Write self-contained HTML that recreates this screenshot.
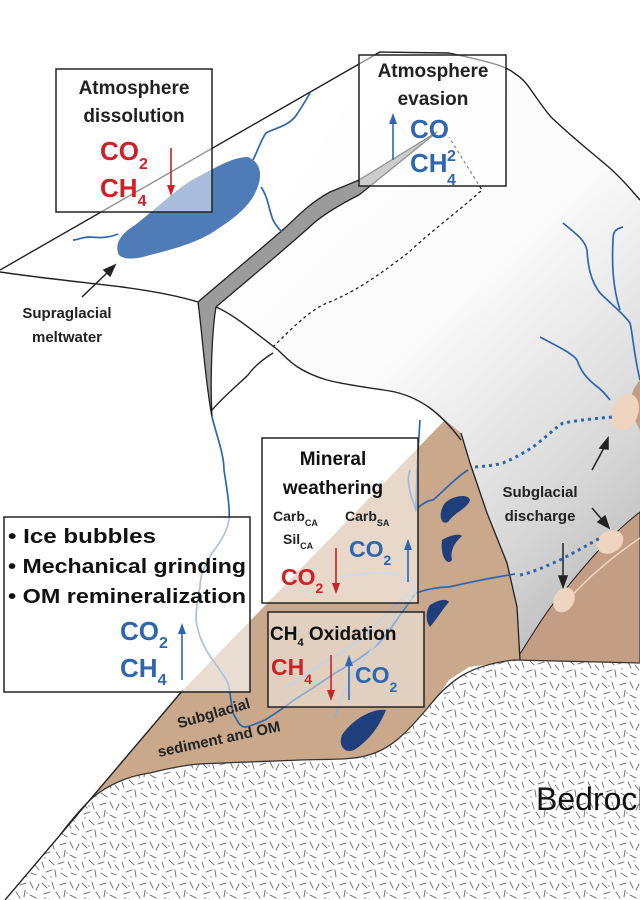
<!DOCTYPE html>
<html><head><meta charset="utf-8"><style>
html,body{margin:0;padding:0;background:#fff}
svg{display:block}
text{font-family:"Liberation Sans",sans-serif;font-weight:bold}
text.reg{font-weight:normal}
</style></head><body>
<svg width="640" height="900" viewBox="0 0 640 900" xmlns="http://www.w3.org/2000/svg">
<defs>
<linearGradient id="ice" x1="0.2" y1="0" x2="0.85" y2="1">
<stop offset="0" stop-color="#fff"/><stop offset="0.45" stop-color="#fbfbfb"/><stop offset="0.8" stop-color="#d6d6d6"/><stop offset="1" stop-color="#b8b8b8"/>
</linearGradient>
<pattern id="rock" width="40" height="40" patternUnits="userSpaceOnUse">
<g stroke="#7a7a7a" stroke-width="1" stroke-linecap="round">
<line x1="2" y1="3" x2="7" y2="8"/><line x1="12" y1="2" x2="14" y2="9"/><line x1="20" y1="5" x2="26" y2="3"/><line x1="30" y1="2" x2="33" y2="8"/>
<line x1="36" y1="10" x2="39" y2="4"/><line x1="4" y1="14" x2="10" y2="12"/><line x1="16" y1="12" x2="20" y2="18"/><line x1="25" y1="10" x2="24" y2="17"/>
<line x1="30" y1="15" x2="36" y2="18"/><line x1="2" y1="22" x2="4" y2="28"/><line x1="9" y1="20" x2="14" y2="25"/><line x1="18" y1="24" x2="24" y2="22"/>
<line x1="28" y1="22" x2="31" y2="28"/><line x1="35" y1="25" x2="39" y2="30"/><line x1="6" y1="32" x2="12" y2="30"/><line x1="15" y1="30" x2="16" y2="37"/>
<line x1="21" y1="33" x2="27" y2="37"/><line x1="31" y1="33" x2="36" y2="35"/><line x1="2" y1="36" x2="6" y2="39"/>
</g>
<g fill="#7a7a7a"><circle cx="9" cy="6" r="0.7"/><circle cx="27" cy="13" r="0.7"/><circle cx="5" cy="18" r="0.7"/><circle cx="34" cy="21" r="0.7"/><circle cx="22" cy="29" r="0.7"/><circle cx="11" cy="37" r="0.7"/></g>
</pattern>
</defs>

<path d="M380,52 L449,53 L514,73 L531,90 L551,117 L612,170 L640,200 L640,663 L520,660 L517,607 L507,563 L487,513 L470,463 L461,440 L429,407 L388,390 L327,380 L294,367 L278,350 L245,323 L216,307 Z" fill="url(#ice)"/>
<path d="M515,662 C535,630 550,605 565,590 C585,565 610,535 640,512 L640,665 Z" fill="#c39d84" stroke="#222" stroke-width="1"/>
<path d="M640,380 C630,392 626,405 640,430 Z" fill="#c39d84"/>
<path d="M568,600 C590,575 615,555 640,538" stroke="#efd9c6" stroke-width="1.5" fill="none"/>
<ellipse cx="625" cy="412" rx="13" ry="19" fill="#efd5bf" transform="rotate(20 625 412)"/>
<ellipse cx="610" cy="542" rx="14" ry="11" fill="#efd5bf" transform="rotate(-30 610 542)"/>
<ellipse cx="564" cy="600" rx="10" ry="13" fill="#efd5bf" transform="rotate(30 564 600)"/>

<path d="M5,900 L183,690 L445,420 L461,433 L470,463 L487,513 L507,563 L517,607 L520,660 L469,667 L449,680 L408,740 L359,760 L300,760 L200,764 L150,773 L100,792 L60,835 Z" fill="#c9a88b"/>
<path d="M461,433 L470,463 L487,513 L507,563 L517,607 L520,660" fill="none" stroke="#222" stroke-width="1.3"/>
<path d="M60,835 C75,815 88,800 100,792 C115,782 130,776 150,773 C170,768 185,765 200,764 C240,762 280,761 300,760 C330,759 350,760 365,756 C390,750 405,735 430,705 C450,680 470,665 514,660 L640,663 L640,900 L5,900 Z" fill="#fff"/>
<path d="M60,835 C75,815 88,800 100,792 C115,782 130,776 150,773 C170,768 185,765 200,764 C240,762 280,761 300,760 C330,759 350,760 365,756 C390,750 405,735 430,705 C450,680 470,665 514,660 L640,663 L640,900 L5,900 Z" fill="url(#rock)"/>
<path d="M60,835 C75,815 88,800 100,792 C115,782 130,776 150,773 C170,768 185,765 200,764 C240,762 280,761 300,760 C330,759 350,760 365,756 C390,750 405,735 430,705 C450,680 470,665 514,660 L640,663" fill="none" stroke="#333" stroke-width="1.3"/>
<path d="M5,900 L183,690" fill="none" stroke="#222" stroke-width="1.4"/>

<g fill="#1f3f7c">
<path d="M445,503 C452,496 468,493 470,500 C468,508 455,512 448,522 C440,526 438,512 445,503 Z"/>
<path d="M442,540 C450,535 460,533 462,536 C455,542 450,550 452,560 C448,566 440,558 442,540 Z"/>
<path d="M430,605 C438,600 446,598 449,602 C442,610 436,620 430,627 C426,622 425,612 430,605 Z"/>
<path d="M342,735 C352,720 372,708 386,710 C380,725 370,740 354,750 C344,754 338,745 342,735 Z"/>
</g>

<path d="M118,253 C115,242 122,233 135,225 C155,210 175,190 192,180 C215,168 232,157 248,157 C262,163 264,178 253,197 C245,210 232,220 210,234 C190,245 170,250 150,255 C135,260 120,260 118,253 Z" fill="#4f7bb6"/>

<g fill="none" stroke="#222" stroke-width="1.4">
<path d="M0,270 L380,52 L449,53 C480,60 505,65 514,73 C525,80 528,86 531,90 C540,103 545,110 551,117 C575,140 595,155 612,170 C625,182 633,192 640,200"/>
<path d="M0,272 C40,278 90,283 122,287 C160,292 185,298 198,302"/>
<path d="M216,307 C235,315 262,338 278,350 C290,362 300,372 327,380 C350,386 375,388 395,392 C420,398 440,412 461,440"/>
<path d="M212,410 C225,395 240,383 248,375 C255,365 265,358 273,353"/>
</g>
<path d="M273,347 C290,330 310,310 327,303 C360,290 385,270 408,253 C430,232 460,210 482,190 L449,137" fill="none" stroke="#222" stroke-width="1.3" stroke-dasharray="3,3"/>

<path d="M198,302 C215,287 260,250 286,227 C300,214 310,203 330,192 C345,186 352,183 359,180 L437,132 L359,195 C345,202 330,210 315,222 C290,245 250,278 216,307 C212,330 210,380 212,417 C205,380 203,340 198,302 Z" fill="#9b9b9b" stroke="#222" stroke-width="1.3" stroke-linejoin="round"/>

<g fill="none" stroke="#2e66b0" stroke-width="1.7">
<path d="M253,160 C258,150 261,140 266,133 C275,128 286,127 295,117 C302,107 306,100 310,93"/>
<path d="M261,187 C268,197 269,210 273,220 C276,226 280,230 282,232"/>
<path d="M118,234 C108,238 100,238 90,237 C82,237 77,240 73,240"/>
<path d="M563,223 C575,233 585,240 587,250 C588,265 590,280 600,293 C610,303 625,315 630,323 C633,335 633,350 640,380"/>
<path d="M623,227 C615,229 613,232 613,240 C612,260 612,285 620,310"/>
<path d="M540,337 C555,345 572,353 577,360 C580,368 583,375 595,385 C602,390 607,396 610,400"/>
<path d="M212,417 C218,440 224,455 224,470 C228,495 230,510 229,520 C226,535 218,545 212,553 C205,565 200,575 200,587 C197,600 196,610 196,620 C198,635 203,645 208,653 C218,668 228,680 229,687 C231,700 232,708 233,713 C238,722 240,727 245,727 C252,726 260,722 265,720 C278,712 286,706 294,700 C310,690 325,680 335,673 C350,665 360,658 367,653 C378,645 386,636 392,627 C400,615 410,600 416,593 C430,588 440,587 449,587 C470,582 490,578 515,574"/>
<path d="M420,420 C418,450 416,480 416,510 C420,505 428,500 433,500 C445,490 455,478 468,470"/>
<path d="M416,510 C410,495 406,480 410,470"/>
</g>
<path d="M475,467 C490,466 500,464 503,463 C515,458 525,452 533,447 C545,438 555,428 563,423 C580,420 600,418 613,417" fill="none" stroke="#2e66b0" stroke-width="3" stroke-dasharray="3,4"/>
<path d="M520,575 C535,572 548,565 560,560 C575,552 588,545 600,538" fill="none" stroke="#2e66b0" stroke-width="3" stroke-dasharray="3,4"/>
<g fill="none" stroke="#8fb0d8" stroke-width="1.5">
<path d="M339,577 C360,574 380,572 392,573 C402,576 408,580 412,583 C415,588 416,592 415,596"/>
<path d="M412,590 C395,605 380,620 367,633 C350,648 338,655 327,660 C310,672 298,680 286,687"/>
<path d="M335,717 C340,700 348,680 360,665 C375,645 395,620 412,597"/>
</g>

<g stroke="#222" stroke-width="1.5" fill="#222">
<line x1="592" y1="470" x2="605" y2="446"/><path d="M608,438 L600,448 L608,449 Z"/>
<line x1="592" y1="508" x2="604" y2="522"/><path d="M609,528 L598,522 L605,516 Z"/>
<line x1="563" y1="543" x2="563" y2="578"/><path d="M563,587 L559,576 L567,576 Z"/>
<line x1="82" y1="297" x2="109" y2="271"/><path d="M115,265 L104,270 L110,276 Z"/>
</g>
<text x="540" y="497" font-size="15" fill="#222" text-anchor="middle">Subglacial</text>
<text x="540" y="521" font-size="15" fill="#222" text-anchor="middle">discharge</text>
<text x="67" y="318" font-size="15" fill="#222" text-anchor="middle">Supraglacial</text>
<text x="67" y="342" font-size="15" fill="#222" text-anchor="middle">meltwater</text>

<g stroke="#222" stroke-width="1.5">
<rect x="56" y="69" width="156" height="143" fill="#fff" fill-opacity="0.5"/>
<rect x="359" y="55" width="147" height="131" fill="#fff" fill-opacity="0.5"/>
<rect x="4" y="517" width="246" height="175" fill="#fff" fill-opacity="0.6"/>
<rect x="262" y="438" width="156" height="165" fill="#fff" fill-opacity="0.55"/>
<rect x="268" y="612" width="156" height="95" fill="#fff" fill-opacity="0.45"/>
</g>

<text x="134" y="94" font-size="19" fill="#222" text-anchor="middle">Atmosphere</text>
<text x="134" y="122" font-size="19" fill="#222" text-anchor="middle">dissolution</text>
<text x="100" y="160" font-size="26" fill="#cf2027">CO<tspan font-size="16" dy="9">2</tspan></text>
<text x="100" y="197" font-size="26" fill="#cf2027">CH<tspan font-size="16" dy="9">4</tspan></text>
<line x1="171" y1="148" x2="171" y2="188" stroke="#cf2027" stroke-width="1.6"/><path d="M171,196 L167,185 L175,185 Z" fill="#cf2027"/>

<text x="433" y="77" font-size="19" fill="#222" text-anchor="middle">Atmosphere</text>
<text x="433" y="105" font-size="19" fill="#222" text-anchor="middle">evasion</text>
<text x="410" y="138" font-size="26" fill="#2e66b0">CO</text>
<text x="447" y="161" font-size="16" fill="#2e66b0">2</text>
<text x="410" y="172" font-size="26" fill="#2e66b0">CH</text>
<text x="447" y="185" font-size="16" fill="#2e66b0">4</text>
<line x1="393" y1="160" x2="393" y2="122" stroke="#2e66b0" stroke-width="1.6"/><path d="M393,113 L389,124 L397,124 Z" fill="#2e66b0"/>

<text x="8" y="543" font-size="20" fill="#111" textLength="148" lengthAdjust="spacingAndGlyphs">• Ice bubbles</text>
<text x="8" y="573" font-size="20" fill="#111" textLength="238" lengthAdjust="spacingAndGlyphs">• Mechanical grinding</text>
<text x="8" y="603" font-size="20" fill="#111" textLength="238" lengthAdjust="spacingAndGlyphs">• OM remineralization</text>
<text x="120" y="640" font-size="26" fill="#2e66b0">CO<tspan font-size="16" dy="8">2</tspan></text>
<text x="120" y="677" font-size="26" fill="#2e66b0">CH<tspan font-size="16" dy="8">4</tspan></text>
<line x1="182" y1="680" x2="182" y2="632" stroke="#2e66b0" stroke-width="1.6"/><path d="M182,623 L178,634 L186,634 Z" fill="#2e66b0"/>

<text x="333" y="465" font-size="19" fill="#111" text-anchor="middle">Mineral</text>
<text x="333" y="494" font-size="19" fill="#111" text-anchor="middle">weathering</text>
<text x="273" y="521" font-size="14" fill="#222">Carb<tspan font-size="9" dy="5">CA</tspan></text>
<text x="283" y="544" font-size="14" fill="#222">Sil<tspan font-size="9" dy="5">CA</tspan></text>
<text x="345" y="521" font-size="14" fill="#222">Carb<tspan font-size="9" dy="5">SA</tspan></text>
<text x="349" y="557" font-size="23" fill="#2e66b0">CO<tspan font-size="14" dy="8">2</tspan></text>
<text x="281" y="585" font-size="23" fill="#cf2027">CO<tspan font-size="14" dy="8">2</tspan></text>
<line x1="336" y1="548" x2="336" y2="586" stroke="#cf2027" stroke-width="1.6"/><path d="M336,594 L332,583 L340,583 Z" fill="#cf2027"/>
<line x1="408" y1="582" x2="408" y2="548" stroke="#2e66b0" stroke-width="1.6"/><path d="M408,539 L404,550 L412,550 Z" fill="#2e66b0"/>

<text x="270" y="640" font-size="19" fill="#111">CH<tspan font-size="11" dy="6">4</tspan><tspan dy="-6"> Oxidation</tspan></text>
<text x="271" y="675" font-size="23" fill="#cf2027">CH<tspan font-size="14" dy="9">4</tspan></text>
<text x="355" y="683" font-size="23" fill="#2e66b0">CO<tspan font-size="14" dy="9">2</tspan></text>
<line x1="331" y1="655" x2="331" y2="693" stroke="#cf2027" stroke-width="1.6"/><path d="M331,701 L327,690 L335,690 Z" fill="#cf2027"/>
<line x1="349" y1="700" x2="349" y2="664" stroke="#2e66b0" stroke-width="1.6"/><path d="M349,655 L345,666 L353,666 Z" fill="#2e66b0"/>

<text x="215" y="718" font-size="15" fill="#222" text-anchor="middle" transform="rotate(-16 215 718)">Subglacial</text>
<text x="220" y="744" font-size="15" fill="#222" text-anchor="middle" transform="rotate(-12 220 744)">sediment and OM</text>

<text class="reg" x="536" y="810" font-size="32" fill="#111">Bedrock</text>
</svg>
</body></html>
